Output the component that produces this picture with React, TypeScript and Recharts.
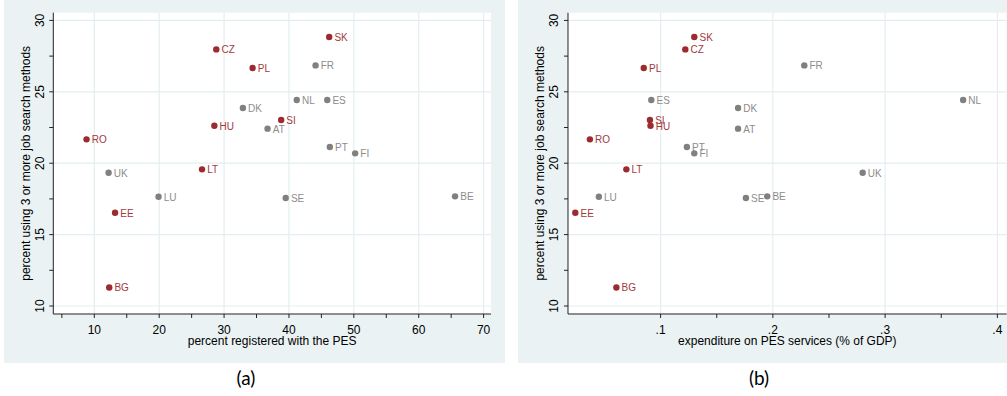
import React from "react";
import { ScatterChart, Scatter, XAxis, YAxis, CartesianGrid, Label } from "recharts";

// Central/Eastern European countries (drawn in red)
const redCountries = ["SK", "CZ", "PL", "SI", "HU", "RO", "LT", "EE", "BG"];
const redJobSearch = [28.84, 27.97, 26.67, 23.03, 22.62, 21.67, 19.57, 16.53, 11.3];
const redRegistered = [46.2, 28.8, 34.4, 38.8, 28.5, 8.8, 26.6, 13.2, 12.3];
const redExpenditure = [0.13, 0.122, 0.085, 0.0905, 0.091, 0.037, 0.0695, 0.024, 0.0606];

// other countries (drawn in grey)
const greyCountries = ["FR", "NL", "ES", "DK", "AT", "PT", "FI", "UK", "LU", "SE", "BE"];
const greyJobSearch = [26.85, 24.43, 24.43, 23.87, 22.42, 21.13, 20.69, 19.33, 17.65, 17.56, 17.68];
const greyRegistered = [44.1, 41.2, 45.9, 32.9, 36.7, 46.3, 50.2, 12.2, 19.9, 39.5, 65.6];
const greyExpenditure = [0.228, 0.3695, 0.0917, 0.169, 0.169, 0.1234, 0.13, 0.28, 0.045, 0.176, 0.195];

const yTicks = [10, 12.5, 15, 17.5, 20, 22.5, 25, 27.5, 30];
const yMajor = [10, 15, 20, 25, 30];
const regTicks = [5, 10, 15, 20, 25, 30, 35, 40, 45, 50, 55, 60, 65, 70];
const regMajor = [10, 20, 30, 40, 50, 60, 70];
const expTicks = [0.1, 0.15, 0.2, 0.25, 0.3, 0.35, 0.4];
const expMajor = [0.1, 0.2, 0.3, 0.4];

const PANEL_BG = "#eaf2f3";
const GRID = "#e3eef0";
const RED = "#9b2b30";
const RED_TEXT = "#a2393d";
const GREY = "#808080";
const GREY_TEXT = "#8c8c8c";
const FONT = "'Liberation Sans', Arial, sans-serif";

const points = (names: string[], xs: number[], ys: number[]) =>
  names.map((name, i) => ({ name, x: xs[i], y: ys[i] }));

const dotShape = (fill: string, textFill: string) => (props: any) => {
  const { cx, cy, payload } = props;
  return (
    <g>
      <circle cx={cx} cy={cy} r={3.2} fill={fill} />
      <text x={cx + 5.2} y={cy + 4} fontSize={10} fill={textFill} fontFamily={FONT}>
        {payload.name}
      </text>
    </g>
  );
};

const YTick = (props: any) => {
  const { x, y, payload } = props;
  if (!yMajor.includes(payload.value)) return <g />;
  const bx = x - 5.7;
  return (
    <text x={bx} y={y} transform={`rotate(-90, ${bx}, ${y})`} textAnchor="middle" fontSize={12} fill="#000" fontFamily={FONT}>
      {payload.value}
    </text>
  );
};

const xTick = (major: number[], fmt: (v: number) => string) => (props: any) => {
  const { x, y, payload } = props;
  if (!major.some((m) => Math.abs(m - payload.value) < 1e-9)) return <g />;
  return (
    <text x={x} y={y + 16.3} textAnchor="middle" fontSize={12} fill="#000" fontFamily={FONT}>
      {fmt(payload.value)}
    </text>
  );
};

function Panel(p: {
  left: number;
  width: number;
  plotLeft: number;
  marginRight: number;
  xDomain: [number, number];
  xTicks: number[];
  xMajor: number[];
  xFmt: (v: number) => string;
  xTitle: string;
  yTitleOffset: number;
  red: any[];
  grey: any[];
}) {
  return (
    <div style={{ position: "absolute", left: p.left, top: 0, width: p.width, height: 363, background: PANEL_BG, fontFamily: FONT }}>
      <ScatterChart width={p.width} height={363} margin={{ top: 12.7, right: p.marginRight, bottom: 0, left: 0 }}>
        <CartesianGrid fill="#fff" stroke={GRID} strokeWidth={1.2} horizontalValues={yMajor} verticalValues={p.xMajor} />
        <XAxis
          type="number"
          dataKey="x"
          domain={p.xDomain}
          allowDataOverflow
          ticks={p.xTicks}
          interval={0}
          height={49}
          tickSize={4}
          tickMargin={0}
          stroke="#222"
          tick={xTick(p.xMajor, p.xFmt)}
        >
          <Label value={p.xTitle} position="insideBottom" offset={17.7} fill="#000" fontSize={12} />
        </XAxis>
        <YAxis
          type="number"
          dataKey="y"
          domain={[9.44, 30.54]}
          allowDataOverflow
          ticks={yTicks}
          interval={0}
          width={p.plotLeft}
          tickSize={4}
          tickMargin={0}
          stroke="#222"
          tick={YTick}
        >
          <Label
            value="percent using 3 or more job search methods"
            angle={-90}
            position="insideLeft"
            offset={p.yTitleOffset}
            fill="#000"
            fontSize={12}
            style={{ textAnchor: "middle" }}
          />
        </YAxis>
        <Scatter data={p.grey} shape={dotShape(GREY, GREY_TEXT)} isAnimationActive={false} />
        <Scatter data={p.red} shape={dotShape(RED, RED_TEXT)} isAnimationActive={false} />
      </ScatterChart>
    </div>
  );
}

const tagStyle = (cx: number): React.CSSProperties => ({
  position: "absolute",
  left: cx - 30,
  width: 60,
  top: 366,
  textAlign: "center",
  fontFamily: "Lato, 'Open Sans', sans-serif",
  fontSize: 19,
  lineHeight: "24px",
  color: "#000",
});

export default function App() {
  const redReg = points(redCountries, redRegistered, redJobSearch);
  const greyReg = points(greyCountries, greyRegistered, greyJobSearch);
  const redExp = points(redCountries, redExpenditure, redJobSearch);
  const greyExp = points(greyCountries, greyExpenditure, greyJobSearch);
  return (
    <div style={{ position: "absolute", left: 0, top: 0, width: 1007, height: 396, background: "#fff", overflow: "hidden" }}>
      <Panel
        left={4}
        width={501}
        plotLeft={49.3}
        marginRight={14}
        xDomain={[3.68, 71.14]}
        xTicks={regTicks}
        xMajor={regMajor}
        xFmt={(v) => String(v)}
        xTitle="percent registered with the PES"
        yTitleOffset={22}
        red={redReg}
        grey={greyReg}
      />
      <Panel
        left={518.3}
        width={488.7}
        plotLeft={50}
        marginRight={0}
        xDomain={[0.0175, 0.4083]}
        xTicks={expTicks}
        xMajor={expMajor}
        xFmt={(v) => String(v).replace(/^0/, "")}
        xTitle="expenditure on PES services (% of GDP)"
        yTitleOffset={21.7}
        red={redExp}
        grey={greyExp}
      />
      <div style={tagStyle(246)}>(a)</div>
      <div style={tagStyle(759)}>(b)</div>
    </div>
  );
}
